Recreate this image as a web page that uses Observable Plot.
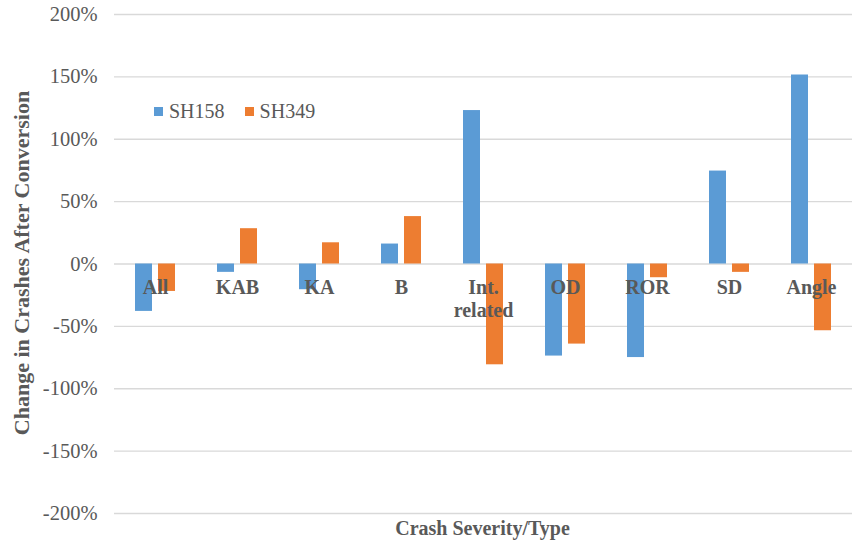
<!DOCTYPE html>
<html>
<head>
<meta charset="utf-8">
<script src="https://cdn.jsdelivr.net/npm/d3@7"></script>
<script src="https://cdn.jsdelivr.net/npm/@observablehq/plot@0.6"></script>
<style>
  body { margin: 0; background: #fff; }
  #wrap { position: relative; width: 856px; height: 546px; font-family: "Liberation Serif", "Times New Roman", serif; color: #595959; }
  #xtitle { position: absolute; left: 110px; width: 745px; top: 517px; text-align: center; font-weight: bold; font-size: 20px; line-height: 22px; }
  #ytitle { position: absolute; left: 22px; top: 263px; transform: translate(-50%, -50%) rotate(-90deg); white-space: nowrap; font-weight: bold; font-size: 22px; }
  #legend { position: absolute; left: 154px; top: 99px; font-size: 20px; line-height: 24px; display: flex; align-items: center; }
  .sw { display: inline-block; width: 9px; height: 9px; margin-right: 6px; }
</style>
</head>
<body>
<div id="wrap">
  <div id="chart"></div>
  <div id="ytitle">Change in Crashes After Conversion</div>
  <div id="xtitle">Crash Severity/Type</div>
  <div id="legend"></div>
</div>
<script>
const categories = ["All", "KAB", "KA", "B", "Int. related", "OD", "ROR", "SD", "Angle"];
const categoryLabels = ["All", "KAB", "KA", "B", "Int.\nrelated", "OD", "ROR", "SD", "Angle"];
const seriesNames = ["SH158", "SH349"];
const seriesColors = ["#5B9BD5", "#ED7D31"];
const sh158 = [-38, -6.7, -20.6, 16, 123, -73.8, -75, 74.5, 151.5];
const sh349 = [-22, 28.3, 17, 38, -80.8, -64.2, -11, -6.7, -53.5];
const yTicks = [-200, -150, -100, -50, 0, 50, 100, 150, 200];

const data = [];
categories.forEach((c, i) => {
  data.push({cat: c, series: seriesNames[0], value: sh158[i]});
  data.push({cat: c, series: seriesNames[1], value: sh349[i]});
});
const labels = categories.map((c, i) => ({cat: c, label: categoryLabels[i]}));

const FONT = "'Liberation Serif', 'Times New Roman', serif";

const chart = Plot.plot({
  width: 856,
  height: 546,
  marginLeft: 110,
  marginRight: 1,
  marginTop: 14,
  marginBottom: 33,
  style: {fontFamily: FONT, fontSize: "20.5px", color: "#595959", background: "#fff"},
  fx: {domain: categories, padding: 0, axis: null, label: null},
  x: {domain: seriesNames, paddingInner: 0.25, paddingOuter: 0.85, axis: null},
  y: {domain: [-200, 200], ticks: yTicks, tickFormat: d => d + "%", tickSize: 0, tickPadding: 17, label: null},
  color: {domain: seriesNames, range: seriesColors},
  marks: [
    Plot.gridY(yTicks, {stroke: "#D9D9D9", strokeOpacity: 1, strokeWidth: 1.3}),
    Plot.barY(data, {fx: "cat", x: "series", y: "value", fill: "series"}),
    Plot.text(labels, {fx: "cat", y: () => 0, text: "label", dy: 14, lineAnchor: "top", lineHeight: 1.15,
      fontWeight: "bold", fill: "#595959", fontSize: 20, fontFamily: FONT})
  ]
});
document.getElementById("chart").appendChild(chart);

const legend = document.getElementById("legend");
seriesNames.forEach((s, i) => {
  const item = document.createElement("span");
  item.style.display = "inline-flex";
  item.style.alignItems = "center";
  item.style.marginRight = i === 0 ? "20px" : "0";
  const sw = document.createElement("span");
  sw.className = "sw";
  sw.style.background = seriesColors[i];
  item.appendChild(sw);
  item.appendChild(document.createTextNode(s));
  legend.appendChild(item);
});
</script>
</body>
</html>
